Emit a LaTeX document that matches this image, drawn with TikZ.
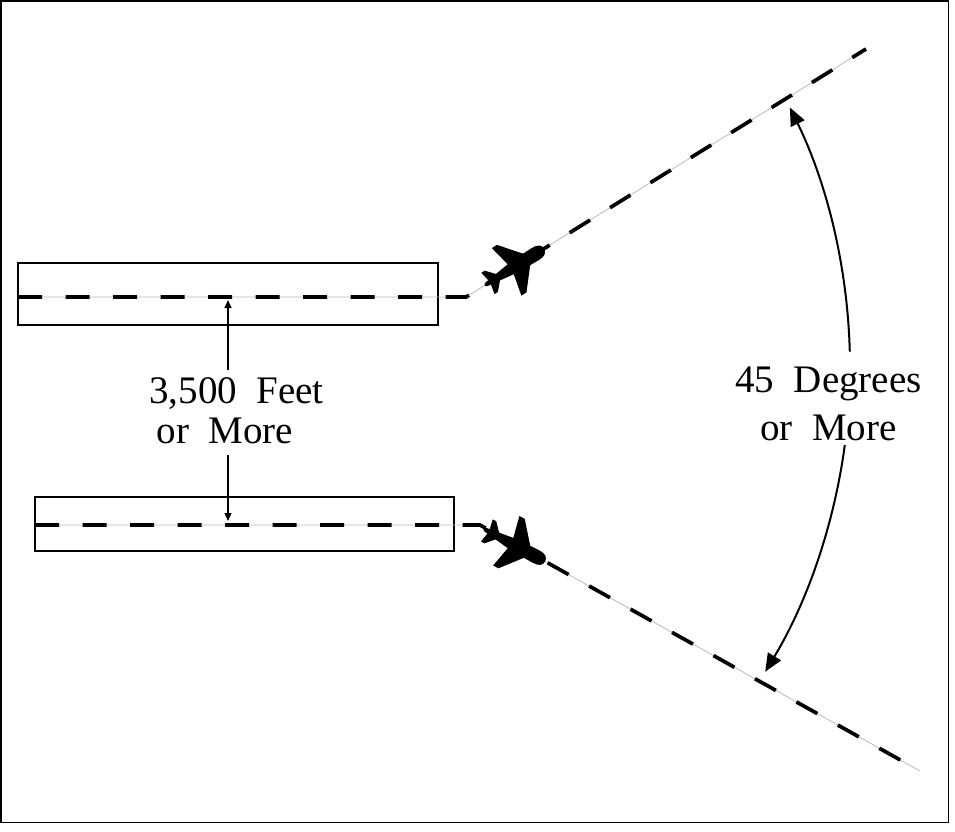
\documentclass[tikz,border=0pt]{standalone}
\usepackage{fontspec}
\setmainfont{Liberation Serif}
\usetikzlibrary{arrows.meta,calc}
\newcommand\wordgap{\hspace{0.5em}}
\tikzset{
  frame/.style={draw, line width=1.5pt},
  runway/.style={draw, line width=1.5pt, inner sep=0pt, outer sep=0pt, anchor=north west},
  grayline/.style={draw=gray!55, line width=0.8pt},
  dashline/.style={draw=black, line width=3.7pt, dash pattern=on 24pt off 23.5pt},
  lbl/.style={font=\fontsize{39}{46}\selectfont, inner sep=0pt, anchor=base},
  smallarrow/.style={line width=1.3pt, -{Triangle[length=8pt,width=7pt]}},
  bigarrow/.style={line width=2pt, -{Triangle[length=18pt,width=15pt]}},
  plane/.pic={
    \fill (0,0) .. controls (0,-5) and (-4,-7) .. (-10,-7) -- (-34,-6.5) -- (-64,-2.5)
      .. controls (-68,-2.2) and (-70,-1.5) .. (-70,0) .. controls (-70,1.5) and (-68,2.2) .. (-64,2.5)
      -- (-34,6.5) -- (-10,7) .. controls (-4,7) and (0,5) .. (0,0) -- cycle;
    \fill (-19,-5) -- (-38,-28) -- (-44,-28) -- (-39,-5) -- cycle;
    \fill (-19,5) -- (-38,28) -- (-44,28) -- (-39,5) -- cycle;
    \fill (-53,-2.5) -- (-62,-12.5) -- (-66,-12.5) -- (-64,-2.5) -- cycle;
    \fill (-53,2.5) -- (-62,12.5) -- (-66,12.5) -- (-64,2.5) -- cycle;
  }
}
\begin{document}
\begin{tikzpicture}[x=1pt,y=-1pt]
\useasboundingbox (0,0) rectangle (955,831);
\draw[frame] (0.75,0.75) rectangle (948.5,822.5);

% runways
\node[runway, minimum width=420pt, minimum height=62pt] (rw1) at (18,263) {};
\node[runway, minimum width=419pt, minimum height=54pt] (rw2) at (35,497) {};

% centerlines and departure courses
\coordinate (c1s) at (18,297);
\coordinate (c1b) at (466,297);
\coordinate (c1e) at (866,49);
\coordinate (c2s) at (35,525);
\coordinate (c2b) at (480,525);
\coordinate (c2e) at (920,771);
\draw[grayline] (c1s) -- (c1b) -- (c1e);
\draw[dashline] (c1s) -- (c1b) -- (c1e);
\draw[grayline] (c2s) -- (c2b) -- (c2e);
\draw[dashline] (c2s) -- (c2b) -- (c2e);

% airplanes
\coordinate (n1) at ($(c1b)!0.195!(c1e)$);
\coordinate (n2) at ($(c2b)!0.148!(c2e)$);
\pic[rotate=31.8] (p1) at (n1) {plane};
\pic[rotate=-28] (p2) at (n2) {plane};

% separation label and arrows
\node[lbl] (sepA) at (236.5,403) {3,500\wordgap Feet};
\node[lbl] (sepB) at (225,443) {or\wordgap More};
\coordinate (a1s) at (228,370);
\coordinate (a1e) at (228,300);
\coordinate (a2s) at (228,455);
\coordinate (a2e) at (228,521);
\draw[smallarrow] (a1s) -- (a1e);
\draw[smallarrow] (a2s) -- (a2e);

% angle label and arc arrows (centre 260,367, radius 590)
\node[lbl] (angA) at (828.5,392) {45\wordgap Degrees};
\node[lbl] (angB) at (828.5,440) {or\wordgap More};
\coordinate (arcU) at ($(260,367)+(-1.5:590)$);
\coordinate (arcL) at ($(260,367)+(7.6:590)$);
\draw[bigarrow] (arcU) arc[start angle=-1.5, end angle=-26.1, radius=590];
\draw[bigarrow] (arcL) arc[start angle=7.6, end angle=31.1, radius=590];
\end{tikzpicture}
\end{document}
